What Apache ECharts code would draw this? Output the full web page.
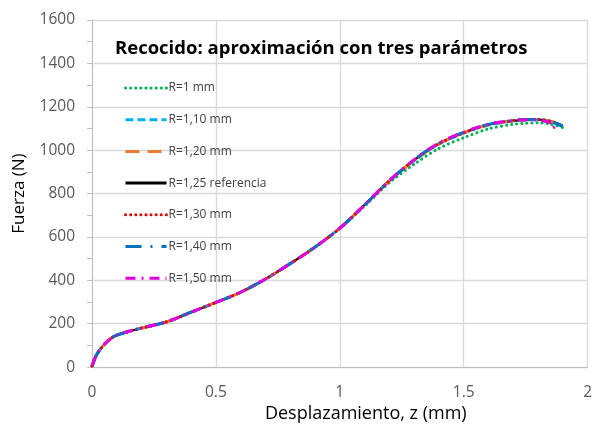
<!DOCTYPE html>
<html><head><meta charset="utf-8">
<script src="https://cdn.jsdelivr.net/npm/echarts@6/dist/echarts.min.js"></script>
<style>html,body{margin:0;padding:0;background:#fff}#c{width:595px;height:428px}</style>
</head><body><div id="c"></div>
<script>
var xs      = [0, 0.02, 0.05, 0.08, 0.1, 0.15, 0.2, 0.3, 0.4, 0.5, 0.6, 0.7, 0.8, 0.9, 1.0, 1.1, 1.2, 1.3, 1.4, 1.5, 1.6, 1.7, 1.75, 1.8, 1.85, 1.9];
var r100    = [5, 60, 105, 135, 147, 165, 180, 208, 253, 298, 345, 406, 477, 553, 638, 742, 850, 935, 1008, 1057, 1098, 1119, 1124, 1126, 1120, 1104];
var r110    = [5, 60, 105, 135, 147, 165, 180, 208, 253, 298, 345, 406, 477, 553, 640, 746, 857, 952, 1028, 1079, 1116, 1134, 1139, 1140, 1131, 1108];
var r120    = [5, 60, 105, 135, 147, 165, 180, 208, 253, 298, 345, 406, 477, 553, 640, 747, 858, 953, 1029, 1080, 1117, 1135, 1140, 1141, 1133, 1115];
var r125    = [5, 60, 105, 135, 147, 165, 180, 208, 253, 298, 345, 406, 477, 553, 640, 748, 859, 954, 1030, 1080, 1118, 1136, 1140, 1141, 1134, 1113];
var r130    = [5, 60, 105, 135, 147, 165, 180, 208, 253, 298, 345, 406, 477, 553, 640, 748, 859, 954, 1030, 1080, 1118, 1136, 1140, 1141, 1133, 1112];
var r140    = [5, 60, 105, 135, 147, 165, 180, 208, 253, 298, 345, 406, 477, 553, 640, 747, 859, 955, 1032, 1082, 1119, 1137, 1141, 1142, 1134, 1110];
var r150x   = [0, 0.02, 0.05, 0.08, 0.1, 0.15, 0.2, 0.3, 0.4, 0.5, 0.6, 0.7, 0.8, 0.9, 1.0, 1.1, 1.2, 1.3, 1.4, 1.5, 1.6, 1.7, 1.75, 1.8, 1.84, 1.87, 1.85];
var r150    = [5, 60, 105, 135, 147, 165, 180, 208, 253, 298, 345, 406, 477, 553, 640, 748, 860, 956, 1033, 1083, 1120, 1137, 1140, 1139, 1130, 1110, 1100];
var names   = ['R=1 mm', 'R=1,10 mm', 'R=1,20 mm', 'R=1,25 referencia', 'R=1,30 mm', 'R=1,40 mm', 'R=1,50 mm'];
var yTicks  = [0, 200, 400, 600, 800, 1000, 1200, 1400, 1600];
var xTicks  = [0, 0.5, 1, 1.5, 2];

function pairs(x, y) { return y.map(function (v, i) { return [x[i], v]; }); }

var styles = [
  {color: '#00B050', type: [0.1, 5], width: 3, cap: 'round'},
  {color: '#00B0F0', type: [8, 4], width: 3, cap: 'butt'},
  {color: '#ED7D31', type: [14, 8], width: 3, cap: 'butt'},
  {color: '#000000', type: 'solid', width: 2.2, cap: 'butt'},
  {color: '#E00000', type: [0.1, 5], width: 3, cap: 'round'},
  {color: '#0070C0', type: [16, 9, 2, 9], width: 3, cap: 'butt'},
  {color: '#E000E0', type: [10, 6, 2, 6], width: 3, cap: 'butt'}
];
var datas = [pairs(xs, r100), pairs(xs, r110), pairs(xs, r120), pairs(xs, r125), pairs(xs, r130), pairs(xs, r140), pairs(r150x, r150)];
var order = [3, 0, 1, 2, 4, 5, 6];
var series = order.map(function (i) {
  var s = styles[i];
  return {
    name: names[i], type: 'line', data: datas[i], smooth: 0.3, symbol: 'none',
    lineStyle: {color: s.color, type: s.type, width: s.width, cap: s.cap},
    itemStyle: {color: s.color}, z: i === 3 ? 1 : 2
  };
});

var font = '"Open Sans", sans-serif';
var chart = echarts.init(document.getElementById('c'), null, {renderer: 'canvas'});
chart.setOption({
  animation: false,
  backgroundColor: '#fff',
  title: {text: 'Recocido: aproximación con tres parámetros', left: 110, top: 34,
    textStyle: {fontFamily: font, fontWeight: 'bold', fontSize: 18.5, color: '#000'}},
  legend: {orient: 'vertical', left: 119, top: 76, itemGap: 17.7, itemWidth: 41, itemHeight: 14,
    data: names, itemStyle: {opacity: 0}, lineStyle: {width: 3},
    textStyle: {fontFamily: font, fontSize: 12, lineHeight: 14, color: '#404040', padding: [0, 0, 0, -3]}},
  grid: {left: 92, right: -2, top: 20, bottom: 59, containLabel: false},
  xAxis: {type: 'value', min: 0, max: 2, interval: 0.5,
    name: 'Desplazamiento, z (mm)', nameLocation: 'middle', nameGap: 36,
    nameTextStyle: {fontFamily: font, fontSize: 18, color: '#000', padding: [0, 0, 0, 52]},
    axisLine: {show: true, lineStyle: {color: '#bfbfbf'}}, axisTick: {show: false},
    axisLabel: {fontFamily: font, fontSize: 15.5, color: '#595959', margin: 17,
      formatter: function (v) { return xTicks.indexOf(v) >= 0 ? String(v) : ''; }},
    splitLine: {show: true, lineStyle: {color: '#d9d9d9', width: 1.3}}},
  yAxis: {type: 'value', min: 0, max: 1600, interval: 200,
    name: 'Fuerza (N)', nameLocation: 'middle', nameGap: 64, nameRotate: 90,
    nameTextStyle: {fontFamily: font, fontSize: 17, color: '#000', padding: [0, 0, 0, 0]},
    axisLine: {show: true, lineStyle: {color: '#bfbfbf'}},
    axisTick: {show: true, length: 5, lineStyle: {color: '#bfbfbf'}},
    minorTick: {show: true, splitNumber: 2, length: 5, lineStyle: {color: '#bfbfbf'}},
    axisLabel: {fontFamily: font, fontSize: 15.5, color: '#595959', margin: 17,
      formatter: function (v) { return yTicks.indexOf(v) >= 0 ? String(v) : ''; }},
    splitLine: {show: true, lineStyle: {color: '#d9d9d9', width: 1.3}}},
  series: series
});
</script></body></html>
